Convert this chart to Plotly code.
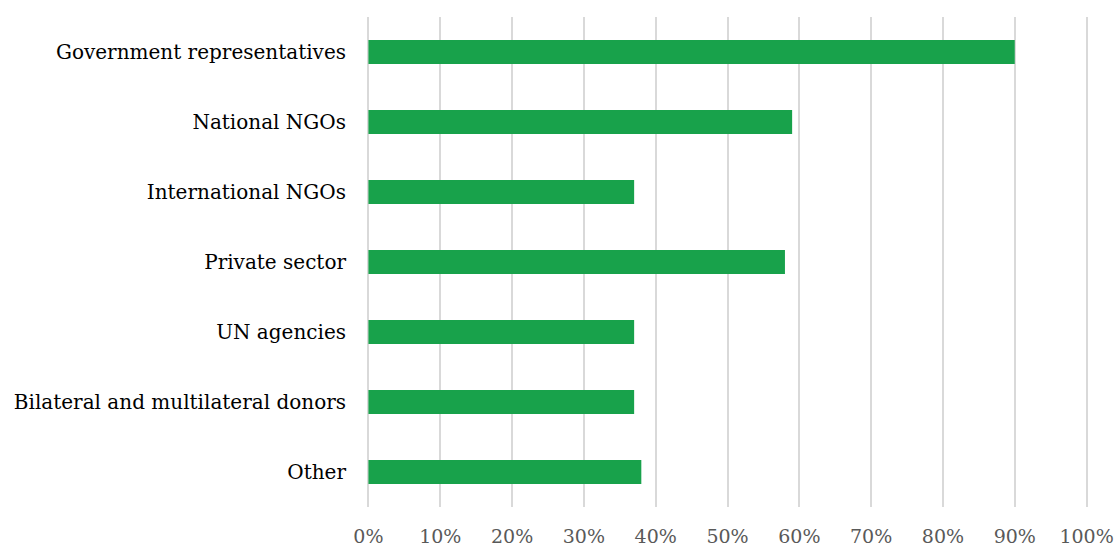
import plotly.graph_objects as go

# Share of respondents per stakeholder group
categories = [
    "Government representatives",
    "National NGOs",
    "International NGOs",
    "Private sector",
    "UN agencies",
    "Bilateral and multilateral donors",
    "Other",
]
shares = [0.90, 0.59, 0.37, 0.58, 0.37, 0.37, 0.38]

tick_vals = [i / 10 for i in range(11)]
tick_text = [f"{i * 10}%" for i in range(11)]

fig = go.Figure(
    go.Bar(
        x=shares,
        y=categories,
        orientation="h",
        marker=dict(color="#18A24B", line=dict(width=0)),
        width=0.343,
        hoverinfo="skip",
    )
)

fig.update_layout(
    width=1119,
    height=547,
    margin=dict(l=367, r=31, t=17, b=40),
    plot_bgcolor="white",
    paper_bgcolor="white",
    showlegend=False,
    font=dict(family="DejaVu Serif", size=20, color="#000000"),
)

fig.update_xaxes(
    range=[-0.002, 1.002],
    tickvals=tick_vals,
    ticktext=tick_text,
    showgrid=True,
    gridcolor="#D9D9D9",
    gridwidth=1.5,
    zeroline=False,
    showline=False,
    automargin=False,
    tickfont=dict(color="#595959", size=19),
    ticklabelstandoff=16,
)

fig.update_yaxes(
    categoryorder="array",
    categoryarray=categories,
    autorange="reversed",
    showgrid=False,
    zeroline=False,
    showline=False,
    automargin=False,
    tickfont=dict(color="#000000", size=20),
    ticklabelstandoff=20,
)

fig.write_html("out.html")
